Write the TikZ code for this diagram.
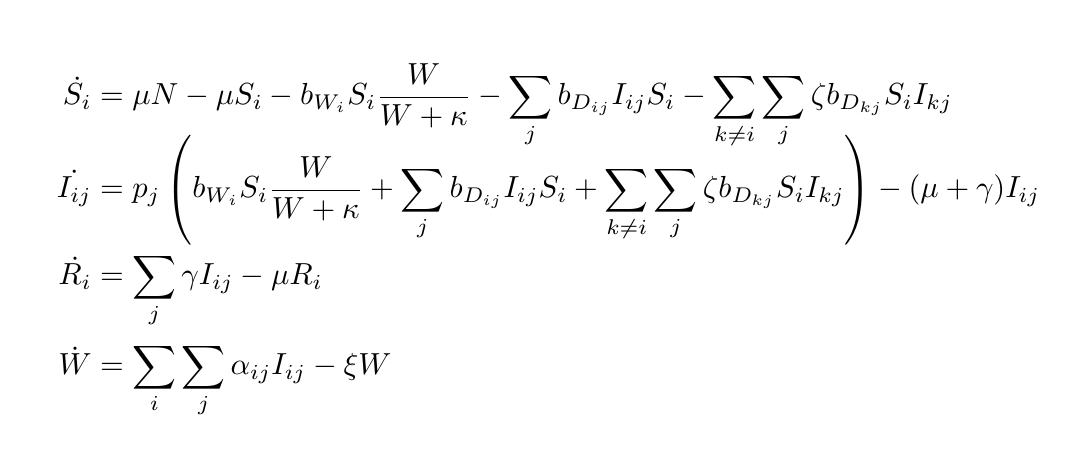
\documentclass[tikz,border=0pt]{standalone}
\usepackage{amsmath}
\usepackage{graphicx}
\newsavebox\eqbox
\newcommand{\lhsbox}[1]{\makebox[11pt][r]{$#1$}}
\newcommand{\eqtwo}{$\displaystyle \lhsbox{\dot{I_{ij}}} = p_j \left( b_{W_i} S_i \frac{W}{W+\kappa} + \sum\limits_j b_{D_{ij}} I_{ij} S_i + \sum\limits_{k\neq i}\sum\limits_j \zeta b_{D_{kj}} S_i I_{kj}\right) - (\mu+\gamma) I_{ij}$}
\begin{document}
\begin{tikzpicture}[x=1pt,y=1pt,eq/.style={anchor=base west,inner sep=0pt}]
\useasboundingbox (0,0) rectangle (1084,476);
\sbox\eqbox{\eqtwo}
\pgfmathsetmacro\sc{982/\wd\eqbox}
\node[eq] (e1) at (58,371) {\scalebox{\sc}{$\displaystyle \lhsbox{\dot{S_i}} = \mu N - \mu S_i - b_{W_i} S_i \frac{W}{W+\kappa} - \sum\limits_j b_{D_{ij}} I_{ij} S_i - \sum\limits_{k\neq i}\sum\limits_j \zeta b_{D_{kj}} S_i I_{kj}$}};
\node[eq] (e2) at (58,278) {\scalebox{\sc}{\eqtwo}};
\node[eq] (e3) at (58,191) {\scalebox{\sc}{$\displaystyle \lhsbox{\dot{R_i}} = \sum\limits_j \gamma I_{ij} - \mu R_i$}};
\node[eq] (e4) at (58,101) {\scalebox{\sc}{$\displaystyle \lhsbox{\dot{W}} = \sum\limits_i\sum\limits_j \alpha_{ij} I_{ij} - \xi W$}};
\end{tikzpicture}
\end{document}
